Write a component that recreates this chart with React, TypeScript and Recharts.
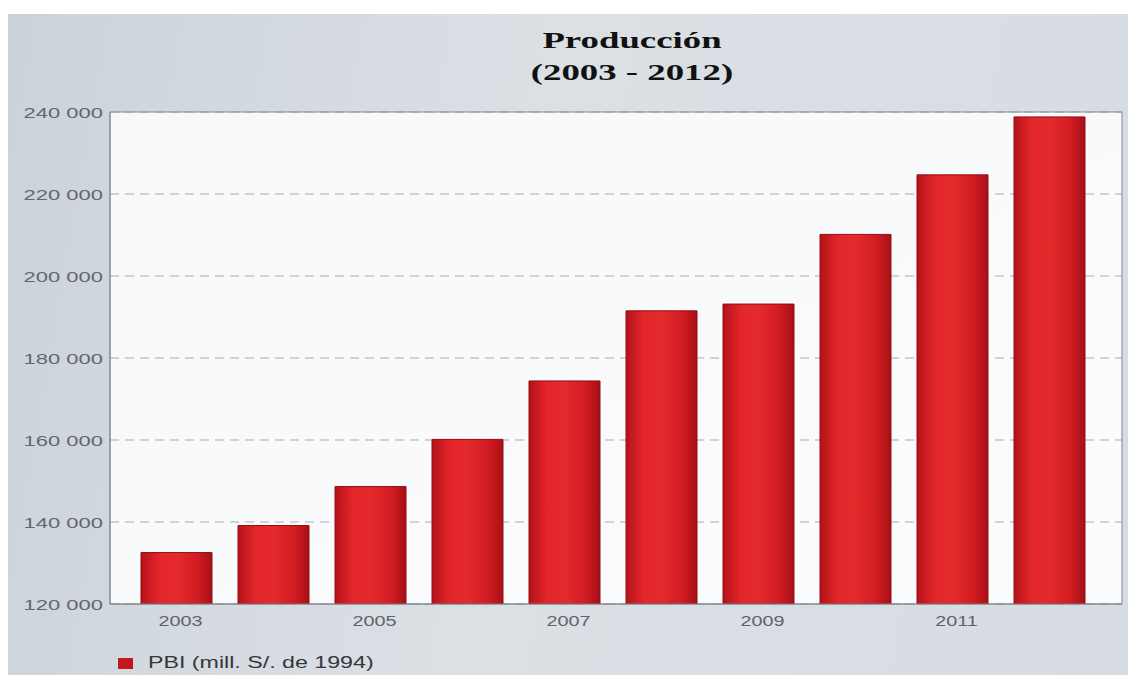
import React from 'react';
import {
  BarChart, Bar, XAxis, YAxis, CartesianGrid, Legend
} from 'recharts';

// PBI del Perú, millones de S/. de 1994
const YEARS = ['2003', '2004', '2005', '2006', '2007', '2008', '2009', '2010', '2011', '2012'];
const PBI = [132545, 139141, 148640, 160145, 174407, 191505, 193155, 210143, 224669, 238800];
const Y_TICKS = [120000, 140000, 160000, 180000, 200000, 220000, 240000];
const SERIES_NAME = 'PBI (mill. S/. de 1994)';
const TITLE = ['Producción', '(2003 - 2012)'];

const data = YEARS.map((year, i) => ({ year, pbi: PBI[i] }));

const fmt = (v: number) => {
  const s = String(Math.round(v));
  return s.replace(/\B(?=(\d{3})+(?!\d))/g, ' ');
};

const SANS = '"Liberation Sans", Arial, sans-serif';

const YTick = ({ x, y, payload }: any) => (
  <text
    transform={`translate(${x},${y}) scale(1.42,1)`}
    textAnchor="end"
    dy="0.36em"
    fontFamily={SANS}
    fontSize={15.5}
    fill="#64686d"
  >
    {fmt(payload.value)}
  </text>
);

const XTick = ({ x, y, payload }: any) => (
  <text
    transform={`translate(${x + 4},${y}) scale(1.32,1)`}
    textAnchor="middle"
    dy="0.8em"
    fontFamily={SANS}
    fontSize={15}
    fill="#5f6368"
  >
    {payload.value}
  </text>
);

const LegendContent = () => (
  <div style={{ display: 'flex', alignItems: 'center', fontFamily: SANS, height: 16 }}>
    <span style={{ display: 'inline-block', width: 15, height: 11, background: '#c3161d', marginRight: 15 }} />
    <span
      style={{
        display: 'inline-block',
        fontSize: 16,
        lineHeight: '16px',
        color: '#34373c',
        transform: 'scaleX(1.45)',
        transformOrigin: 'left center',
        whiteSpace: 'nowrap',
      }}
    >
      {SERIES_NAME}
    </span>
  </div>
);

// solid frame around the plot, taken from the chart's own offset
const frameX = ({ offset }: any) => [offset.left, offset.left + offset.width];
const frameY = ({ offset }: any) => [offset.top, offset.top + offset.height];

export default function App() {
  return (
    <div style={{ position: 'absolute', left: 0, top: 0, width: 1128, height: 675, background: '#ffffff', overflow: 'hidden' }}>
      <div
        style={{
          position: 'absolute', left: 8, top: 14, right: 0, bottom: 0,
          background: 'linear-gradient(100deg, #cbd3da 0%, #dbe0e5 45%, #d6dce2 100%)',
        }}
      />
      <div
        style={{
          position: 'absolute', left: 432, top: 25, width: 400, textAlign: 'center',
          fontFamily: '"Liberation Serif", "Times New Roman", serif', fontWeight: 'bold',
          fontSize: 23, lineHeight: '32px', color: '#111',
          transform: 'scaleX(1.6)', transformOrigin: 'center top',
        }}
      >
        <div>{TITLE[0]}</div>
        <div>{TITLE[1]}</div>
      </div>
      <div style={{ position: 'absolute', left: 0, top: 0 }}>
        <BarChart
          width={1128}
          height={675}
          data={data}
          margin={{ top: 112, right: 6, bottom: 41, left: 0 }}
        >
          <defs>
            <linearGradient id="barFill" x1="0" y1="0" x2="1" y2="0">
              <stop offset="0%" stopColor="#b5121a" />
              <stop offset="25%" stopColor="#e2262a" />
              <stop offset="50%" stopColor="#e52a2c" />
              <stop offset="80%" stopColor="#d01c22" />
              <stop offset="100%" stopColor="#a80f16" />
            </linearGradient>
            <linearGradient id="plotFill" x1="0" y1="0" x2="1" y2="1">
              <stop offset="0%" stopColor="#f6f8fa" />
              <stop offset="100%" stopColor="#fbfcfd" />
            </linearGradient>
          </defs>
          <CartesianGrid
            vertical={false}
            stroke="#a9acb0"
            strokeDasharray="9 6"
            fill="url(#plotFill)"
          />
          <CartesianGrid
            stroke="#85888c"
            verticalCoordinatesGenerator={frameX}
            horizontalCoordinatesGenerator={frameY}
          />
          <XAxis
            dataKey="year"
            interval={1}
            tickLine={false}
            tickSize={0}
            tickMargin={10}
            height={30}
            padding={{ left: 18, right: 24 }}
            axisLine={{ stroke: '#85888c' }}
            tick={<XTick />}
          />
          <YAxis
            domain={[120000, 240000]}
            ticks={Y_TICKS}
            width={110}
            tickLine={false}
            tickSize={0}
            tickMargin={7}
            axisLine={{ stroke: '#85888c' }}
            tick={<YTick />}
            allowDataOverflow
          />
          <Legend
            verticalAlign="middle"
            align="center"
            content={<LegendContent />}
            wrapperStyle={{ position: 'absolute', left: 118, top: 655, width: 400, height: 16 }}
          />
          <Bar
            dataKey="pbi"
            name={SERIES_NAME}
            barSize={71}
            fill="url(#barFill)"
            stroke="#940e13"
            strokeWidth={1}
            isAnimationActive={false}
          />
        </BarChart>
      </div>
    </div>
  );
}
